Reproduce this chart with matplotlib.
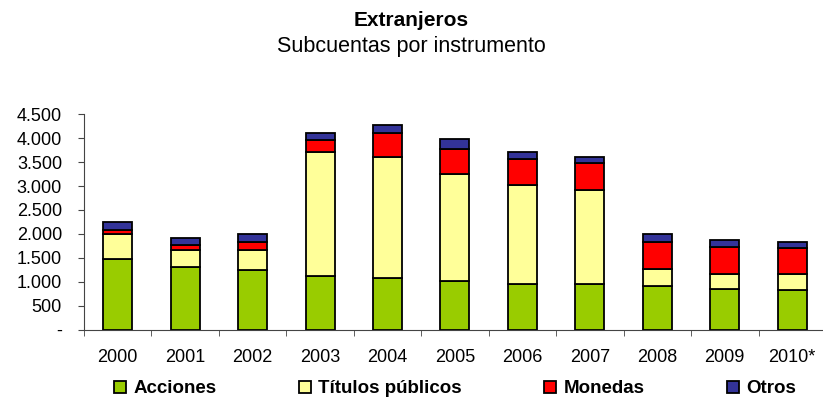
import numpy as np
import matplotlib
matplotlib.use('Agg')
import matplotlib.pyplot as plt
from matplotlib.ticker import FuncFormatter, FixedLocator

# datos
anios = ['2000', '2001', '2002', '2003', '2004', '2005', '2006', '2007', '2008', '2009', '2010*']
acciones = [1477, 1310, 1247, 1115, 1080, 1017, 948, 948, 913, 850, 823]
titulos = [516, 355, 418, 2597, 2528, 2235, 2075, 1977, 362, 307, 334]
monedas = [83, 104, 167, 251, 495, 523, 543, 558, 564, 577, 543]
otros = [167, 147, 167, 146, 180, 202, 140, 131, 160, 146, 139]

series = [
    ('Acciones', acciones, '#99CC00'),
    ('Títulos públicos', titulos, '#FFFF99'),
    ('Monedas', monedas, '#FF0000'),
    ('Otros', otros, '#333399'),
]

plt.rcParams['font.family'] = ['Liberation Sans', 'DejaVu Sans']

fig = plt.figure(figsize=(8.23, 4.01), dpi=100)
ax = fig.add_axes([0.102, 0.178, 0.9016, 0.537])

x = np.arange(len(anios))
base = np.zeros(len(anios))
handles = []
for nombre, vals, color in series:
    b = ax.bar(x, vals, width=0.43, bottom=base, color=color, edgecolor='black',
               linewidth=1.3, label=nombre)
    handles.append(b)
    base += np.array(vals)

ax.set_xlim(-0.5, len(anios) - 0.5)
ax.set_ylim(0, 4500)
ax.set_yticks(np.arange(0, 4501, 500))
ax.yaxis.set_major_formatter(FuncFormatter(
    lambda v, p: '-' if v == 0 else '{:,.0f}'.format(v).replace(',', '.')))

# ticks del eje x entre categorias
ax.set_xticks(x)
ax.set_xticklabels(anios)
ax.xaxis.set_minor_locator(FixedLocator(np.arange(-0.5, len(anios), 1)))
ax.tick_params(axis='x', which='major', length=0, pad=14, labelsize=13)
ax.tick_params(axis='x', which='minor', length=4.3, color='#444444')
ax.tick_params(axis='y', length=4.3, color='#444444', labelsize=13, pad=11.5)

for s in ['top', 'right']:
    ax.spines[s].set_visible(False)
for s in ['left', 'bottom']:
    ax.spines[s].set_color('#444444')

fig.text(0.5, 0.95, 'Extranjeros', ha='center', va='center', fontsize=15, fontweight='bold')
fig.text(0.5, 0.883, 'Subcuentas por instrumento', ha='center', va='center', fontsize=15.5)

fig.legend(handles=handles, loc='center', bbox_to_anchor=(0.553, 0.03), ncol=4,
           frameon=False, prop={'weight': 'bold', 'size': 13.5}, handlelength=0.65,
           handleheight=0.65, handletextpad=0.37, columnspacing=4.4, borderpad=0)

fig.savefig('out.png', dpi=100)
plt.close('all')
